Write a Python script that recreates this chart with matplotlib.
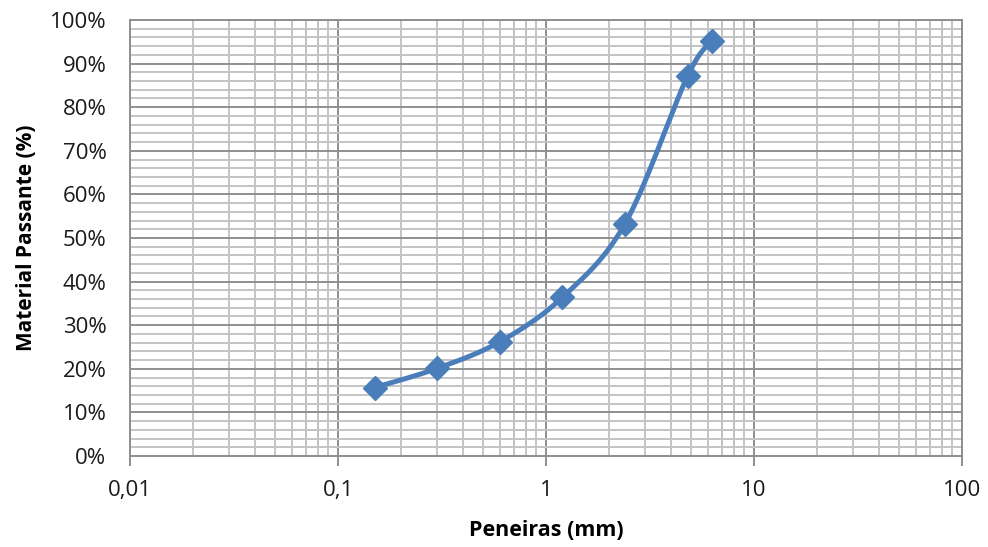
import numpy as np
import matplotlib.pyplot as plt
from matplotlib.ticker import FixedLocator, LogLocator, MultipleLocator, FuncFormatter

plt.rcParams["font.family"] = ["Open Sans", "DejaVu Sans"]

# peneiras (mm) e material passante (%)
sieves = [0.15, 0.3, 0.6, 1.2, 2.4, 4.8, 6.3]
passing = [15.7, 20.1, 26.2, 36.4, 53.3, 87.2, 95.2]

LINE = "#4a7ebb"
MAJOR = "#8f8f8f"
MINOR = "#c4c4c4"


def smooth_curve(x, y, n=40):
    # catmull-rom style smoothing like the spreadsheet "smoothed line"
    lx = np.log10(x)
    y = np.asarray(y, dtype=float)
    pts = np.column_stack([lx, y])
    out = []
    for i in range(len(pts) - 1):
        p0 = pts[i - 1] if i > 0 else pts[i]
        p1 = pts[i]
        p2 = pts[i + 1]
        p3 = pts[i + 2] if i + 2 < len(pts) else pts[i + 1]
        c1 = p1 + (p2 - p0) / 6.0
        c2 = p2 - (p3 - p1) / 6.0
        t = np.linspace(0, 1, n)[:, None]
        seg = ((1 - t) ** 3) * p1 + 3 * ((1 - t) ** 2) * t * c1 + 3 * (1 - t) * t ** 2 * c2 + t ** 3 * p2
        out.append(seg)
    curve = np.vstack(out)
    return 10 ** curve[:, 0], curve[:, 1]


fig = plt.figure(figsize=(9.88, 5.47), dpi=100)
ax = fig.add_axes([130 / 988, 1 - 456 / 547, 832 / 988, 436 / 547])

ax.set_xscale("log")
ax.set_xlim(0.01, 100)
ax.set_ylim(0, 100)

ax.xaxis.set_major_locator(FixedLocator([0.01, 0.1, 1, 10, 100]))
ax.xaxis.set_minor_locator(LogLocator(base=10, subs=np.arange(2, 10)))
ax.xaxis.set_major_formatter(FuncFormatter(lambda v, p: f"{v:g}".replace(".", ",")))
ax.xaxis.set_minor_formatter(FuncFormatter(lambda v, p: ""))
ax.yaxis.set_major_locator(MultipleLocator(10))
ax.yaxis.set_minor_locator(MultipleLocator(2))
ax.yaxis.set_major_formatter(FuncFormatter(lambda v, p: f"{v:.0f}%"))

ax.grid(which="minor", color=MINOR, linewidth=1.4)
ax.grid(which="major", color=MAJOR, linewidth=1.4)
ax.set_axisbelow(True)

for s in ax.spines.values():
    s.set_color(MAJOR)
    s.set_linewidth(1.4)

ax.tick_params(axis="x", which="major", length=7, width=1.4, color=MAJOR,
               labelsize=16, pad=10, labelcolor="#1a1a1a")
ax.tick_params(axis="x", which="minor", length=0)
ax.tick_params(axis="y", which="both", length=0, labelsize=16, pad=17,
               labelcolor="#1a1a1a")

cx, cy = smooth_curve(sieves, passing)
ax.plot(cx, cy, color=LINE, linewidth=3.6, solid_capstyle="round", zorder=3)
ax.plot(sieves, passing, linestyle="none", marker="D", markersize=12.5,
        color=LINE, zorder=4)

ax.set_xlabel("Peneiras (mm)", fontsize=15.5, fontweight="bold", labelpad=14)
ax.set_ylabel("Material Passante (%)", fontsize=15, fontweight="bold", labelpad=9)

fig.savefig("out.png", dpi=100)
